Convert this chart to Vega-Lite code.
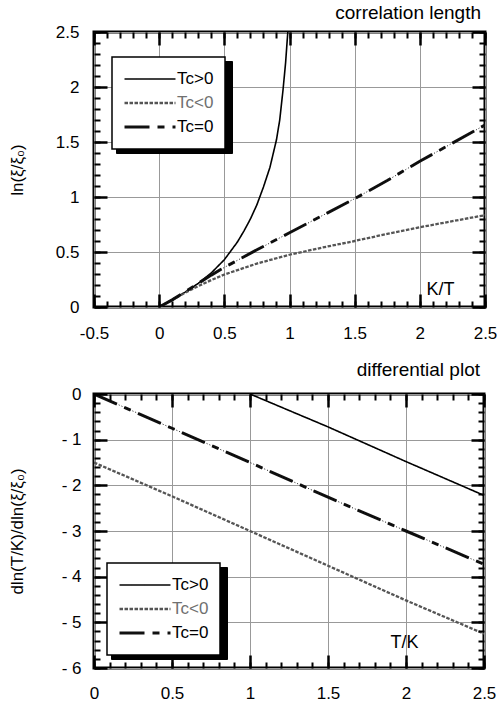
{
  "$schema": "https://vega.github.io/schema/vega-lite/v6.json",
  "background": "white",
  "padding": {"left": 6, "top": 2, "right": 2, "bottom": 0},
  "spacing": 16,
  "config": {
    "font": "Liberation Sans",
    "view": {"stroke": "black", "strokeWidth": 3},
    "axis": {"labelColor": "black", "titleColor": "black", "labelFont": "Liberation Sans", "titleFont": "Liberation Sans", "minExtent": 0},
    "legend": {"labelFont": "Liberation Sans"}
  },
  "resolve": {
    "scale": {"color": "independent", "strokeDash": "independent", "strokeWidth": "independent", "fill": "independent"},
    "legend": {"color": "independent", "strokeDash": "independent", "strokeWidth": "independent", "fill": "independent"}
  },
  "vconcat": [
    {
      "width": 391,
      "height": 275,
      "title": {"text": "correlation     length", "anchor": "end", "frame": "group", "fontSize": 19, "fontWeight": "normal", "offset": 0, "dx": -4, "color": "black"},
      "data": {"values": [
        {"series": "Tc>0", "x": 0, "y": 0},
        {"series": "Tc>0", "x": 0.1, "y": 0.065},
        {"series": "Tc>0", "x": 0.2, "y": 0.135},
        {"series": "Tc>0", "x": 0.3, "y": 0.215},
        {"series": "Tc>0", "x": 0.4, "y": 0.31},
        {"series": "Tc>0", "x": 0.5, "y": 0.43},
        {"series": "Tc>0", "x": 0.55, "y": 0.51},
        {"series": "Tc>0", "x": 0.6, "y": 0.59},
        {"series": "Tc>0", "x": 0.65, "y": 0.69},
        {"series": "Tc>0", "x": 0.7, "y": 0.8},
        {"series": "Tc>0", "x": 0.75, "y": 0.93},
        {"series": "Tc>0", "x": 0.8, "y": 1.09},
        {"series": "Tc>0", "x": 0.85, "y": 1.27},
        {"series": "Tc>0", "x": 0.9, "y": 1.52},
        {"series": "Tc>0", "x": 0.925, "y": 1.7},
        {"series": "Tc>0", "x": 0.95, "y": 1.97},
        {"series": "Tc>0", "x": 0.97, "y": 2.22},
        {"series": "Tc>0", "x": 0.987, "y": 2.5},
        {"series": "Tc<0", "x": 0, "y": 0},
        {"series": "Tc<0", "x": 0.1, "y": 0.065},
        {"series": "Tc<0", "x": 0.2, "y": 0.13},
        {"series": "Tc<0", "x": 0.3, "y": 0.19},
        {"series": "Tc<0", "x": 0.4, "y": 0.245},
        {"series": "Tc<0", "x": 0.5, "y": 0.295},
        {"series": "Tc<0", "x": 0.75, "y": 0.395},
        {"series": "Tc<0", "x": 1.0, "y": 0.475},
        {"series": "Tc<0", "x": 1.25, "y": 0.54},
        {"series": "Tc<0", "x": 1.5, "y": 0.6},
        {"series": "Tc<0", "x": 1.75, "y": 0.665},
        {"series": "Tc<0", "x": 2.0, "y": 0.725},
        {"series": "Tc<0", "x": 2.25, "y": 0.78},
        {"series": "Tc<0", "x": 2.5, "y": 0.835},
        {"series": "Tc=0", "x": 0, "y": 0},
        {"series": "Tc=0", "x": 0.1, "y": 0.065},
        {"series": "Tc=0", "x": 0.2, "y": 0.14},
        {"series": "Tc=0", "x": 0.3, "y": 0.215},
        {"series": "Tc=0", "x": 0.4, "y": 0.29},
        {"series": "Tc=0", "x": 0.5, "y": 0.36},
        {"series": "Tc=0", "x": 0.75, "y": 0.52},
        {"series": "Tc=0", "x": 1.0, "y": 0.675},
        {"series": "Tc=0", "x": 1.25, "y": 0.83},
        {"series": "Tc=0", "x": 1.5, "y": 0.985},
        {"series": "Tc=0", "x": 1.75, "y": 1.15},
        {"series": "Tc=0", "x": 2.0, "y": 1.325},
        {"series": "Tc=0", "x": 2.25, "y": 1.49},
        {"series": "Tc=0", "x": 2.5, "y": 1.655}
      ]},
      "resolve": {"axis": {"x": "independent", "y": "independent"}},
      "layer": [
        {
          "mark": {"type": "line", "clip": true},
          "encoding": {
            "x": {"field": "x", "type": "quantitative", "scale": {"domain": [-0.5, 2.5], "nice": false, "zero": false},
              "axis": {"orient": "bottom", "values": [-0.5, 0, 0.5, 1, 1.5, 2, 2.5], "ticks": false, "domain": false, "grid": true, "gridColor": "#999999", "gridWidth": 1, "labelFontSize": 17, "labelPadding": 18, "labelFlush": false, "labelOverlap": false,
                "labelExpr": "datum.value < 0 ? '-' + format(-datum.value, '~g') : format(datum.value, '~g')",
                "title": "K/T", "titleFontSize": 18, "titleFontWeight": "normal", "titleX": 346, "titleY": -18, "titleBaseline": "middle", "titleAlign": "center", "zindex": 0, "minExtent": 0}},
            "y": {"field": "y", "type": "quantitative", "scale": {"domain": [0, 2.5], "nice": false, "zero": false},
              "axis": {"orient": "left", "values": [0, 0.5, 1, 1.5, 2, 2.5], "ticks": false, "domain": false, "grid": true, "gridColor": "#999999", "gridWidth": 1, "labelFontSize": 17, "labelPadding": 15, "labelOverlap": false,
                "labelExpr": "format(datum.value, '~g')",
                "title": "ln(ξ/ξ₀)", "titleFontSize": 17, "titleFontWeight": "normal", "titleX": -77, "titleY": 137.5, "titleAngle": -90, "titleBaseline": "middle", "titleAlign": "center", "zindex": 0, "minExtent": 0}},
            "color": {"field": "series", "type": "nominal", "scale": {"domain": ["Tc>0", "Tc<0", "Tc=0"], "range": ["#000000", "#555555", "#111111"]},
              "legend": {"orient": "none", "legendX": 18, "legendY": 25, "title": null, "fillColor": "white", "strokeColor": "black", "padding": 11, "clipHeight": 22, "rowPadding": 2, "labelFontSize": 17, "labelOffset": 0, "symbolType": "stroke", "symbolSize": 2600, "zindex": 3,
                "encode": {"legend": {"update": {"strokeWidth": {"value": 1.5}}}, "labels": {"update": {"fill": {"signal": "datum.value === 'Tc<0' ? '#707070' : '#000000'"}}}}}},
            "strokeDash": {"field": "series", "type": "nominal", "scale": {"domain": ["Tc>0", "Tc<0", "Tc=0"], "range": [[1, 0], [3.5, 1.5], [25, 8, 7, 8]]},
              "legend": {"orient": "none", "legendX": 18, "legendY": 25, "title": null, "fillColor": "white", "strokeColor": "black", "padding": 11, "clipHeight": 22, "rowPadding": 2, "labelFontSize": 17, "labelOffset": 0, "symbolType": "stroke", "symbolSize": 2600, "zindex": 3,
                "encode": {"legend": {"update": {"strokeWidth": {"value": 1.5}}}, "labels": {"update": {"fill": {"signal": "datum.value === 'Tc<0' ? '#707070' : '#000000'"}}}}}},
            "strokeWidth": {"field": "series", "type": "ordinal", "scale": {"domain": ["Tc>0", "Tc<0", "Tc=0"], "range": [1.6, 3, 4.5]},
              "legend": {"orient": "none", "legendX": 18, "legendY": 25, "title": null, "fillColor": "white", "strokeColor": "black", "padding": 11, "clipHeight": 22, "rowPadding": 2, "labelFontSize": 17, "labelOffset": 0, "symbolType": "stroke", "symbolSize": 2600, "zindex": 3,
                "encode": {"legend": {"update": {"strokeWidth": {"value": 1.5}}}, "labels": {"update": {"fill": {"signal": "datum.value === 'Tc<0' ? '#707070' : '#000000'"}}}}}}
          }
        },
        {
          "transform": [{"filter": "datum.series === 'Tc=0'"}],
          "mark": {"type": "line", "clip": true, "color": "#000000", "strokeWidth": 0.9, "strokeDash": [1, 2]},
          "encoding": {
            "x": {"field": "x", "type": "quantitative", "scale": {"domain": [-0.5, 2.5], "nice": false, "zero": false},
              "axis": {"orient": "bottom", "values": [-0.5, 0, 0.5, 1, 1.5, 2, 2.5], "labels": false, "grid": false, "domain": false, "ticks": true, "tickSize": -13, "tickWidth": 2.5, "tickColor": "black", "title": null, "zindex": 2, "minExtent": 0}},
            "y": {"field": "y", "type": "quantitative", "scale": {"domain": [0, 2.5], "nice": false, "zero": false},
              "axis": {"orient": "left", "values": [0, 0.5, 1, 1.5, 2, 2.5], "labels": false, "grid": false, "domain": false, "ticks": true, "tickSize": -13, "tickWidth": 2.5, "tickColor": "black", "title": null, "zindex": 2, "minExtent": 0}}
          }
        },
        {
          "mark": {"type": "point", "opacity": 0},
          "encoding": {
            "x": {"field": "x", "type": "quantitative", "scale": {"domain": [-0.5, 2.5], "nice": false, "zero": false},
              "axis": {"orient": "bottom", "values": [-0.5, -0.4, -0.3, -0.2, -0.1, 0, 0.1, 0.2, 0.3, 0.4, 0.5, 0.6, 0.7, 0.8, 0.9, 1, 1.1, 1.2, 1.3, 1.4, 1.5, 1.6, 1.7, 1.8, 1.9, 2, 2.1, 2.2, 2.3, 2.4, 2.5], "labels": false, "grid": false, "domain": false, "ticks": true, "tickSize": -6, "tickWidth": 2, "tickColor": "black", "title": null, "zindex": 2, "minExtent": 0}},
            "y": {"field": "y", "type": "quantitative", "scale": {"domain": [0, 2.5], "nice": false, "zero": false},
              "axis": {"orient": "left", "values": [0, 0.1, 0.2, 0.3, 0.4, 0.5, 0.6, 0.7, 0.8, 0.9, 1, 1.1, 1.2, 1.3, 1.4, 1.5, 1.6, 1.7, 1.8, 1.9, 2, 2.1, 2.2, 2.3, 2.4, 2.5], "labels": false, "grid": false, "domain": false, "ticks": true, "tickSize": -6, "tickWidth": 2, "tickColor": "black", "title": null, "zindex": 2, "minExtent": 0}},
            "fill": {"field": "series", "type": "nominal", "scale": {"domain": ["Tc=0", "Tc<0", "Tc>0"], "range": ["white", "white", "white"]},
              "legend": {"orient": "none", "legendX": 22, "legendY": 29, "title": null, "fillColor": "black", "strokeColor": "black", "padding": 11, "clipHeight": 22, "rowPadding": 2, "labelFontSize": 17, "labelOffset": 0, "labelExpr": "''", "symbolOpacity": 0, "symbolType": "stroke", "symbolSize": 8836, "symbolStrokeWidth": 0, "zindex": 1}}
          }
        },
        {
          "mark": {"type": "point", "opacity": 0},
          "encoding": {
            "x": {"field": "x", "type": "quantitative", "scale": {"domain": [-0.5, 2.5], "nice": false, "zero": false},
              "axis": {"orient": "top", "values": [-0.5, 0, 0.5, 1, 1.5, 2, 2.5], "labels": false, "grid": false, "domain": false, "ticks": true, "tickSize": -13, "tickWidth": 2.5, "tickColor": "black", "title": null, "zindex": 2, "minExtent": 0}},
            "y": {"field": "y", "type": "quantitative", "scale": {"domain": [0, 2.5], "nice": false, "zero": false},
              "axis": {"orient": "right", "values": [0, 0.5, 1, 1.5, 2, 2.5], "labels": false, "grid": false, "domain": false, "ticks": true, "tickSize": -13, "tickWidth": 2.5, "tickColor": "black", "title": null, "zindex": 2, "minExtent": 0}}
          }
        },
        {
          "mark": {"type": "point", "opacity": 0},
          "encoding": {
            "x": {"field": "x", "type": "quantitative", "scale": {"domain": [-0.5, 2.5], "nice": false, "zero": false},
              "axis": {"orient": "top", "values": [-0.5, -0.4, -0.3, -0.2, -0.1, 0, 0.1, 0.2, 0.3, 0.4, 0.5, 0.6, 0.7, 0.8, 0.9, 1, 1.1, 1.2, 1.3, 1.4, 1.5, 1.6, 1.7, 1.8, 1.9, 2, 2.1, 2.2, 2.3, 2.4, 2.5], "labels": false, "grid": false, "domain": false, "ticks": true, "tickSize": -6, "tickWidth": 2, "tickColor": "black", "title": null, "zindex": 2, "minExtent": 0}},
            "y": {"field": "y", "type": "quantitative", "scale": {"domain": [0, 2.5], "nice": false, "zero": false},
              "axis": {"orient": "right", "values": [0, 0.1, 0.2, 0.3, 0.4, 0.5, 0.6, 0.7, 0.8, 0.9, 1, 1.1, 1.2, 1.3, 1.4, 1.5, 1.6, 1.7, 1.8, 1.9, 2, 2.1, 2.2, 2.3, 2.4, 2.5], "labels": false, "grid": false, "domain": false, "ticks": true, "tickSize": -6, "tickWidth": 2, "tickColor": "black", "title": null, "zindex": 2, "minExtent": 0}}
          }
        }
      ]
    },
    {
      "width": 390,
      "height": 274,
      "title": {"text": "differential     plot", "anchor": "end", "frame": "group", "fontSize": 19, "fontWeight": "normal", "offset": 5, "dx": -4, "color": "black"},
      "data": {"values": [
        {"series": "Tc>0", "x": 1.0, "y": 0},
        {"series": "Tc>0", "x": 1.25, "y": -0.36},
        {"series": "Tc>0", "x": 1.5, "y": -0.72},
        {"series": "Tc>0", "x": 1.75, "y": -1.1},
        {"series": "Tc>0", "x": 2.0, "y": -1.48},
        {"series": "Tc>0", "x": 2.25, "y": -1.85},
        {"series": "Tc>0", "x": 2.5, "y": -2.22},
        {"series": "Tc<0", "x": 0, "y": -1.5},
        {"series": "Tc<0", "x": 0.5, "y": -2.24},
        {"series": "Tc<0", "x": 1.0, "y": -3.0},
        {"series": "Tc<0", "x": 1.5, "y": -3.76},
        {"series": "Tc<0", "x": 2.0, "y": -4.52},
        {"series": "Tc<0", "x": 2.5, "y": -5.25},
        {"series": "Tc=0", "x": 0, "y": 0},
        {"series": "Tc=0", "x": 0.5, "y": -0.75},
        {"series": "Tc=0", "x": 1.0, "y": -1.5},
        {"series": "Tc=0", "x": 1.5, "y": -2.26},
        {"series": "Tc=0", "x": 2.0, "y": -3.0},
        {"series": "Tc=0", "x": 2.5, "y": -3.73}
      ]},
      "resolve": {"axis": {"x": "independent", "y": "independent"}},
      "layer": [
        {
          "mark": {"type": "line", "clip": true},
          "encoding": {
            "x": {"field": "x", "type": "quantitative", "scale": {"domain": [0, 2.5], "nice": false, "zero": false},
              "axis": {"orient": "bottom", "values": [0, 0.5, 1, 1.5, 2, 2.5], "ticks": false, "domain": false, "grid": true, "gridColor": "#999999", "gridWidth": 1, "labelFontSize": 17, "labelPadding": 17, "labelFlush": false, "labelOverlap": false,
                "labelExpr": "format(datum.value, '~g')",
                "title": "T/K", "titleFontSize": 18, "titleFontWeight": "normal", "titleX": 310, "titleY": -26, "titleBaseline": "middle", "titleAlign": "center", "zindex": 0, "minExtent": 0}},
            "y": {"field": "y", "type": "quantitative", "scale": {"domain": [-6, 0], "nice": false, "zero": false},
              "axis": {"orient": "left", "values": [-6, -5, -4, -3, -2, -1, 0], "ticks": false, "domain": false, "grid": true, "gridColor": "#999999", "gridWidth": 1, "labelFontSize": 17, "labelPadding": 13, "labelOverlap": false,
                "labelExpr": "datum.value < 0 ? '- ' + format(-datum.value, '~g') : format(datum.value, '~g')",
                "title": "dln(T/K)/dln(ξ/ξ₀)", "titleFontSize": 17, "titleFontWeight": "normal", "titleX": -77, "titleY": 137, "titleAngle": -90, "titleBaseline": "middle", "titleAlign": "center", "zindex": 0, "minExtent": 0}},
            "color": {"field": "series", "type": "nominal", "scale": {"domain": ["Tc>0", "Tc<0", "Tc=0"], "range": ["#000000", "#555555", "#111111"]},
              "legend": {"orient": "none", "legendX": 13, "legendY": 169, "title": null, "fillColor": "white", "strokeColor": "black", "padding": 11, "clipHeight": 22, "rowPadding": 2, "labelFontSize": 17, "labelOffset": 0, "symbolType": "stroke", "symbolSize": 2600, "zindex": 3,
                "encode": {"legend": {"update": {"strokeWidth": {"value": 1.5}}}, "labels": {"update": {"fill": {"signal": "datum.value === 'Tc<0' ? '#707070' : '#000000'"}}}}}},
            "strokeDash": {"field": "series", "type": "nominal", "scale": {"domain": ["Tc>0", "Tc<0", "Tc=0"], "range": [[1, 0], [3.5, 1.5], [25, 8, 7, 8]]},
              "legend": {"orient": "none", "legendX": 13, "legendY": 169, "title": null, "fillColor": "white", "strokeColor": "black", "padding": 11, "clipHeight": 22, "rowPadding": 2, "labelFontSize": 17, "labelOffset": 0, "symbolType": "stroke", "symbolSize": 2600, "zindex": 3,
                "encode": {"legend": {"update": {"strokeWidth": {"value": 1.5}}}, "labels": {"update": {"fill": {"signal": "datum.value === 'Tc<0' ? '#707070' : '#000000'"}}}}}},
            "strokeWidth": {"field": "series", "type": "ordinal", "scale": {"domain": ["Tc>0", "Tc<0", "Tc=0"], "range": [1.6, 3, 4.5]},
              "legend": {"orient": "none", "legendX": 13, "legendY": 169, "title": null, "fillColor": "white", "strokeColor": "black", "padding": 11, "clipHeight": 22, "rowPadding": 2, "labelFontSize": 17, "labelOffset": 0, "symbolType": "stroke", "symbolSize": 2600, "zindex": 3,
                "encode": {"legend": {"update": {"strokeWidth": {"value": 1.5}}}, "labels": {"update": {"fill": {"signal": "datum.value === 'Tc<0' ? '#707070' : '#000000'"}}}}}}
          }
        },
        {
          "transform": [{"filter": "datum.series === 'Tc=0'"}],
          "mark": {"type": "line", "clip": true, "color": "#000000", "strokeWidth": 0.9, "strokeDash": [1, 2]},
          "encoding": {
            "x": {"field": "x", "type": "quantitative", "scale": {"domain": [0, 2.5], "nice": false, "zero": false},
              "axis": {"orient": "bottom", "values": [0, 0.5, 1, 1.5, 2, 2.5], "labels": false, "grid": false, "domain": false, "ticks": true, "tickSize": -13, "tickWidth": 2.5, "tickColor": "black", "title": null, "zindex": 2, "minExtent": 0}},
            "y": {"field": "y", "type": "quantitative", "scale": {"domain": [-6, 0], "nice": false, "zero": false},
              "axis": {"orient": "left", "values": [-6, -5, -4, -3, -2, -1, 0], "labels": false, "grid": false, "domain": false, "ticks": true, "tickSize": -13, "tickWidth": 2.5, "tickColor": "black", "title": null, "zindex": 2, "minExtent": 0}}
          }
        },
        {
          "mark": {"type": "point", "opacity": 0},
          "encoding": {
            "x": {"field": "x", "type": "quantitative", "scale": {"domain": [0, 2.5], "nice": false, "zero": false},
              "axis": {"orient": "bottom", "values": [0, 0.1, 0.2, 0.3, 0.4, 0.5, 0.6, 0.7, 0.8, 0.9, 1, 1.1, 1.2, 1.3, 1.4, 1.5, 1.6, 1.7, 1.8, 1.9, 2, 2.1, 2.2, 2.3, 2.4, 2.5], "labels": false, "grid": false, "domain": false, "ticks": true, "tickSize": -6, "tickWidth": 2, "tickColor": "black", "title": null, "zindex": 2, "minExtent": 0}},
            "y": {"field": "y", "type": "quantitative", "scale": {"domain": [-6, 0], "nice": false, "zero": false},
              "axis": {"orient": "left", "values": [-6, -5.8, -5.6, -5.4, -5.2, -5, -4.8, -4.6, -4.4, -4.2, -4, -3.8, -3.6, -3.4, -3.2, -3, -2.8, -2.6, -2.4, -2.2, -2, -1.8, -1.6, -1.4, -1.2, -1, -0.8, -0.6, -0.4, -0.2, 0], "labels": false, "grid": false, "domain": false, "ticks": true, "tickSize": -6, "tickWidth": 2, "tickColor": "black", "title": null, "zindex": 2, "minExtent": 0}},
            "fill": {"field": "series", "type": "nominal", "scale": {"domain": ["Tc=0", "Tc<0", "Tc>0"], "range": ["white", "white", "white"]},
              "legend": {"orient": "none", "legendX": 17, "legendY": 173, "title": null, "fillColor": "black", "strokeColor": "black", "padding": 11, "clipHeight": 22, "rowPadding": 2, "labelFontSize": 17, "labelOffset": 0, "labelExpr": "''", "symbolOpacity": 0, "symbolType": "stroke", "symbolSize": 8836, "symbolStrokeWidth": 0, "zindex": 1}}
          }
        },
        {
          "mark": {"type": "point", "opacity": 0},
          "encoding": {
            "x": {"field": "x", "type": "quantitative", "scale": {"domain": [0, 2.5], "nice": false, "zero": false},
              "axis": {"orient": "top", "values": [0, 0.5, 1, 1.5, 2, 2.5], "labels": false, "grid": false, "domain": false, "ticks": true, "tickSize": -13, "tickWidth": 2.5, "tickColor": "black", "title": null, "zindex": 2, "minExtent": 0}},
            "y": {"field": "y", "type": "quantitative", "scale": {"domain": [-6, 0], "nice": false, "zero": false},
              "axis": {"orient": "right", "values": [-6, -5, -4, -3, -2, -1, 0], "labels": false, "grid": false, "domain": false, "ticks": true, "tickSize": -13, "tickWidth": 2.5, "tickColor": "black", "title": null, "zindex": 2, "minExtent": 0}}
          }
        },
        {
          "mark": {"type": "point", "opacity": 0},
          "encoding": {
            "x": {"field": "x", "type": "quantitative", "scale": {"domain": [0, 2.5], "nice": false, "zero": false},
              "axis": {"orient": "top", "values": [0, 0.1, 0.2, 0.3, 0.4, 0.5, 0.6, 0.7, 0.8, 0.9, 1, 1.1, 1.2, 1.3, 1.4, 1.5, 1.6, 1.7, 1.8, 1.9, 2, 2.1, 2.2, 2.3, 2.4, 2.5], "labels": false, "grid": false, "domain": false, "ticks": true, "tickSize": -6, "tickWidth": 2, "tickColor": "black", "title": null, "zindex": 2, "minExtent": 0}},
            "y": {"field": "y", "type": "quantitative", "scale": {"domain": [-6, 0], "nice": false, "zero": false},
              "axis": {"orient": "right", "values": [-6, -5.8, -5.6, -5.4, -5.2, -5, -4.8, -4.6, -4.4, -4.2, -4, -3.8, -3.6, -3.4, -3.2, -3, -2.8, -2.6, -2.4, -2.2, -2, -1.8, -1.6, -1.4, -1.2, -1, -0.8, -0.6, -0.4, -0.2, 0], "labels": false, "grid": false, "domain": false, "ticks": true, "tickSize": -6, "tickWidth": 2, "tickColor": "black", "title": null, "zindex": 2, "minExtent": 0}}
          }
        }
      ]
    }
  ]
}
